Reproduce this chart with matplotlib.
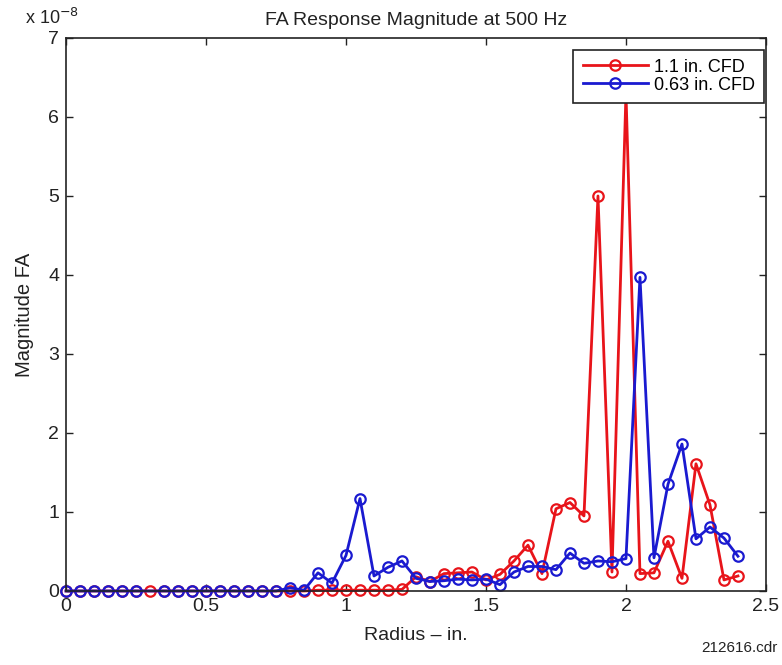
import numpy as np
import matplotlib
matplotlib.use("Agg")
import matplotlib.pyplot as plt

plt.rcParams['font.family'] = ['Liberation Sans', 'DejaVu Sans']

radius = np.round(np.arange(0, 2.401, 0.05), 2)

red_vals = [0, 0, 0, 0, 0, 0, 0, 0, 0, 0,
            0, 0, 0, 0, 0, 0, 0, 0,
            0.01, 0.01, 0.01, 0.01, 0.01, 0.01, 0.02, 0.18, 0.12, 0.22,
            0.23, 0.24, 0.14, 0.21, 0.38, 0.58, 0.22, 1.04, 1.12, 0.95,
            5.0, 0.24, 6.3, 0.22, 0.23, 0.63, 0.16, 1.61, 1.09, 0.14, 0.19]

blue_vals = [0, 0, 0, 0, 0, 0, 0, 0, 0, 0,
             0, 0, 0, 0, 0, 0, 0.04, 0.01,
             0.23, 0.10, 0.45, 1.17, 0.19, 0.30, 0.38, 0.16, 0.12, 0.13,
             0.15, 0.14, 0.15, 0.08, 0.24, 0.31, 0.31, 0.27, 0.48, 0.35,
             0.38, 0.37, 0.41, 3.97, 0.42, 1.35, 1.86, 0.66, 0.81, 0.67, 0.44]

series_labels = ['1.1 in. CFD', '0.63 in. CFD']
xticks = [0, 0.5, 1, 1.5, 2, 2.5]
yticks = [0, 1, 2, 3, 4, 5, 6, 7]

red_vals = np.array(red_vals)
blue_vals = np.array(blue_vals)
blue_mask = radius != 0.3  # blue series has no sample at 0.3

fig = plt.figure(figsize=(7.82, 6.65), dpi=100)
ax = fig.add_axes([0.0844, 0.1113, 0.8951, 0.8316])

ax.plot(radius, red_vals, '-o', color='#e8141a', lw=2.0, ms=7.5,
        mfc='none', mew=1.6, label=series_labels[0], clip_on=False)
ax.plot(radius[blue_mask], blue_vals[blue_mask], '-o', color='#1a1ad0', lw=2.0, ms=7.5,
        mfc='none', mew=1.6, label=series_labels[1], clip_on=False)

ax.set_xlim(0, 2.5)
ax.set_ylim(0, 7)
ax.set_xticks(xticks)
ax.set_xticklabels([f'{t:g}' for t in xticks])
ax.set_yticks(yticks)
ax.set_yticklabels([str(t) for t in yticks])
ax.tick_params(direction='in', top=True, right=True, labelsize=14, length=5, width=1,
               pad=5, colors='#222222')
for s in ax.spines.values():
    s.set_linewidth(1.2)
    s.set_color('#222222')

ax.set_title('FA Response Magnitude at 500 Hz', fontsize=14, pad=9, color='#222222')
ax.set_xlabel('Radius \u2013 in.', fontsize=14, labelpad=9, color='#222222')
ax.set_ylabel('Magnitude FA', fontsize=14.5, labelpad=10, color='#222222')
ax.text(-0.02, 1.018, 'x 10$^{-8}$', transform=ax.transAxes, fontsize=13,
        ha='center', va='bottom', color='#222222')

leg = ax.legend(loc='upper right', bbox_to_anchor=(0.997, 0.979), fontsize=13,
                handlelength=3.65, frameon=True, framealpha=1,
                fancybox=False, edgecolor='#222222', borderpad=0.5,
                labelspacing=0.05, handletextpad=0.3, borderaxespad=0.0)
leg.get_frame().set_linewidth(1.2)
leg.set_zorder(5)

fig.text(0.995, 0.015, '212616.cdr', ha='right', va='bottom', fontsize=11,
         color='#222222')

fig.savefig('out.png', dpi=100)
